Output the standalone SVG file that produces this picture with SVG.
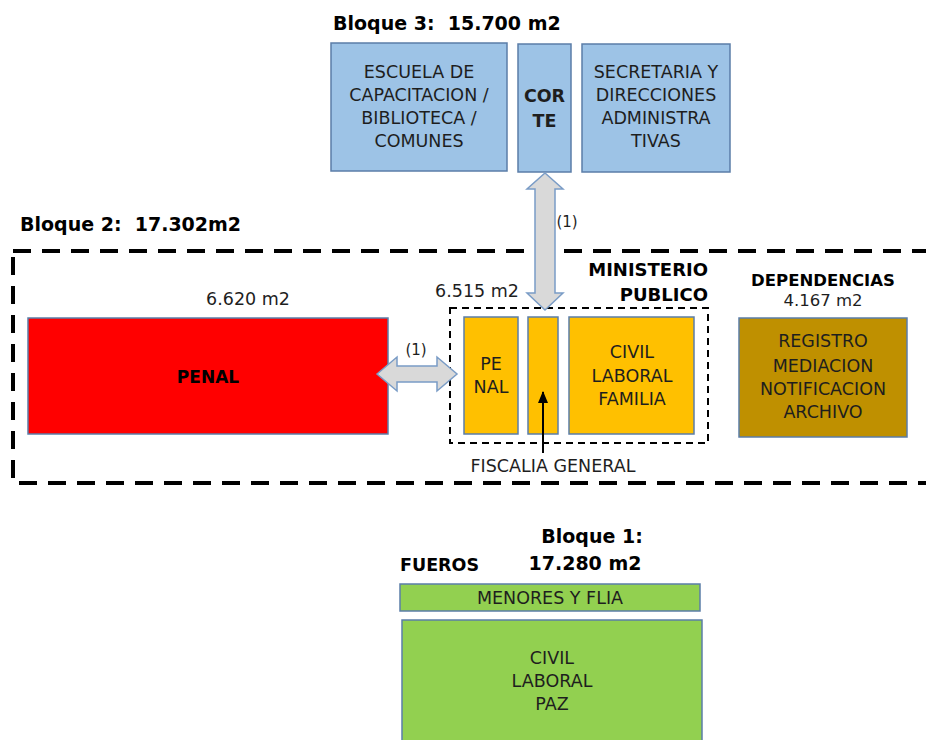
<svg xmlns="http://www.w3.org/2000/svg" width="926" height="740" viewBox="0 0 926 740">
<style>
text{font-family:"DejaVu Sans","Liberation Sans",sans-serif;fill:#1e1e1e}
.t{font-size:17.5px;text-anchor:middle}
.b{font-weight:bold}
.h{font-size:19px;font-weight:bold;fill:#000}
.bx{stroke:#5b7da8;stroke-width:1.5}
.arr{fill:#d9d9d9;stroke:#7a9cc6;stroke-width:1.5}
</style>
<defs>
<marker id="ah" markerWidth="12" markerHeight="10" refX="11" refY="5" orient="auto" markerUnits="userSpaceOnUse" viewBox="0 0 12 10">
<path d="M0,0 L12,5 L0,10 Z" fill="#000"/>
</marker>
</defs>
<rect width="926" height="740" fill="#fff"/>

<text class="h" x="333" y="30" xml:space="preserve">Bloque 3:  15.700 m2</text>
<text class="h" x="20" y="231" xml:space="preserve">Bloque 2:  17.302m2</text>

<g id="bloque2-frame">
<rect x="13" y="251" width="940" height="232" fill="none" stroke="#000" stroke-width="4" stroke-dasharray="18 11"/>
</g>

<g id="escuela">
<rect class="bx" x="331" y="43" width="176" height="128" fill="#9dc3e6"/>
<text class="t" x="419" y="78">ESCUELA DE</text>
<text class="t" x="419" y="101">CAPACITACION /</text>
<text class="t" x="419" y="124">BIBLIOTECA /</text>
<text class="t" x="419" y="147">COMUNES</text>
</g>
<g id="corte">
<rect class="bx" x="518" y="44" width="53" height="128" fill="#9dc3e6"/>
<text class="t b" x="544.5" y="102">COR</text>
<text class="t b" x="544.5" y="127">TE</text>
</g>
<g id="secretaria">
<rect class="bx" x="582" y="44" width="148" height="128" fill="#9dc3e6"/>
<text class="t" x="656" y="78">SECRETARIA Y</text>
<text class="t" x="656" y="101">DIRECCIONES</text>
<text class="t" x="656" y="124">ADMINISTRA</text>
<text class="t" x="656" y="147">TIVAS</text>
</g>

<g id="penal">
<text class="t" x="248" y="305">6.620 m2</text>
<rect class="bx" x="28" y="318" width="360" height="116" fill="#ff0000"/>
<text class="t b" x="208" y="383" style="font-size:17px;fill:#000">PENAL</text>
</g>

<g id="ministerio-publico">
<text class="b" x="708" y="276" style="font-size:18px;text-anchor:end;fill:#000">MINISTERIO</text>
<text class="b" x="708" y="301" style="font-size:18px;text-anchor:end;fill:#000">PUBLICO</text>
<text class="t" x="477" y="297">6.515 m2</text>
<rect x="450" y="308" width="258" height="135" fill="none" stroke="#000" stroke-width="2" stroke-dasharray="7 5"/>
<g id="mp-penal">
<rect class="bx" x="464" y="317" width="54" height="117" fill="#ffc000"/>
<text class="t" x="491" y="370">PE</text>
<text class="t" x="491" y="393">NAL</text>
</g>
<g id="fiscalia">
<rect class="bx" x="528" y="317" width="30" height="117" fill="#ffc000"/>
<text class="t" x="553" y="472">FISCALIA GENERAL</text>
</g>
<g id="mp-civil">
<rect class="bx" x="569" y="317" width="125" height="117" fill="#ffc000"/>
<text class="t" x="632" y="358">CIVIL</text>
<text class="t" x="632" y="382">LABORAL</text>
<text class="t" x="632" y="405">FAMILIA</text>
</g>
</g>

<g id="dependencias">
<text class="b" x="823" y="286" style="font-size:16.5px;text-anchor:middle;fill:#000">DEPENDENCIAS</text>
<text x="823" y="306" style="font-size:16.5px;text-anchor:middle">4.167 m2</text>
<rect class="bx" x="739" y="318" width="168" height="119" fill="#bf9000"/>
<text class="t" x="823" y="347">REGISTRO</text>
<text class="t" x="823" y="372">MEDIACION</text>
<text class="t" x="823" y="395">NOTIFICACION</text>
<text class="t" x="823" y="418">ARCHIVO</text>
</g>

<g id="bloque1">
<text class="h" x="592" y="543" style="text-anchor:middle">Bloque 1:</text>
<text class="h" x="585" y="570" style="text-anchor:middle">17.280 m2</text>
<text class="b" x="400" y="571" style="font-size:17.5px;fill:#000">FUEROS</text>
<g id="menores">
<rect class="bx" x="400" y="584" width="300" height="27" fill="#92d050"/>
<text class="t" x="550" y="604">MENORES Y FLIA</text>
</g>
<g id="civil-laboral-paz">
<rect class="bx" x="402" y="620" width="300" height="130" fill="#92d050"/>
<text class="t" x="552" y="664">CIVIL</text>
<text class="t" x="552" y="687">LABORAL</text>
<text class="t" x="552" y="710">PAZ</text>
</g>
</g>

<g id="connectors">
<polygon class="arr" points="545,173 563,189 555,189 555,293 563,293 545,310 527,293 535,293 535,189 527,189"/>
<text x="567" y="227" style="font-size:15px;text-anchor:middle">(1)</text>
<polygon class="arr" points="377,374 397,357 397,366 437,366 437,357 457,374 437,391 437,382 397,382 397,391"/>
<text x="416" y="355" style="font-size:15px;text-anchor:middle">(1)</text>
<line x1="543" y1="453" x2="543" y2="392" stroke="#000" stroke-width="2" marker-end="url(#ah)"/>
</g>
</svg>
